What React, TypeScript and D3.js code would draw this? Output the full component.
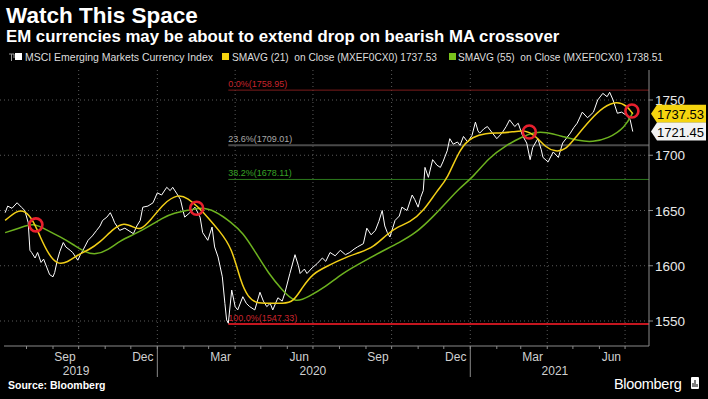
import * as d3 from "d3";

// MSCI EM currency index (date, close)
const priceData: [string, number][] = [
  ["2019-07-07", 1648], ["2019-07-10", 1654], ["2019-07-15", 1652], ["2019-07-21", 1657],
  ["2019-07-26", 1653], ["2019-07-30", 1650], ["2019-08-03", 1639], ["2019-08-05", 1614],
  ["2019-08-07", 1612], ["2019-08-11", 1607], ["2019-08-14", 1612], ["2019-08-18", 1603],
  ["2019-08-21", 1606], ["2019-08-25", 1598], ["2019-08-28", 1592], ["2019-09-01", 1590],
  ["2019-09-03", 1594], ["2019-09-06", 1605], ["2019-09-09", 1613], ["2019-09-13", 1621],
  ["2019-09-16", 1617], ["2019-09-21", 1614], ["2019-09-24", 1612], ["2019-09-30", 1605],
  ["2019-10-03", 1610], ["2019-10-06", 1614], ["2019-10-12", 1623], ["2019-10-17", 1627],
  ["2019-10-22", 1632], ["2019-10-26", 1636], ["2019-10-29", 1641], ["2019-11-03", 1644],
  ["2019-11-07", 1648], ["2019-11-10", 1643], ["2019-11-12", 1639], ["2019-11-18", 1632],
  ["2019-11-24", 1634], ["2019-11-30", 1631], ["2019-12-04", 1629], ["2019-12-08", 1636],
  ["2019-12-12", 1641], ["2019-12-15", 1653], ["2019-12-21", 1654], ["2019-12-27", 1657],
  ["2020-01-01", 1666], ["2020-01-06", 1664], ["2020-01-12", 1671], ["2020-01-16", 1668],
  ["2020-01-19", 1671], ["2020-01-24", 1665], ["2020-01-28", 1660], ["2020-01-31", 1650],
  ["2020-02-02", 1644], ["2020-02-08", 1648], ["2020-02-14", 1653], ["2020-02-20", 1644],
  ["2020-02-23", 1630], ["2020-02-29", 1623], ["2020-03-05", 1635], ["2020-03-08", 1617],
  ["2020-03-12", 1608], ["2020-03-17", 1590], ["2020-03-20", 1566], ["2020-03-22", 1551],
  ["2020-03-24", 1548], ["2020-03-28", 1578], ["2020-04-01", 1563], ["2020-04-04", 1560],
  ["2020-04-10", 1572], ["2020-04-14", 1566], ["2020-04-18", 1563], ["2020-04-24", 1560],
  ["2020-04-30", 1576], ["2020-05-04", 1568], ["2020-05-08", 1563], ["2020-05-12", 1566],
  ["2020-05-15", 1560], ["2020-05-21", 1571], ["2020-05-26", 1568], ["2020-05-29", 1575],
  ["2020-06-04", 1593], ["2020-06-10", 1610], ["2020-06-14", 1600], ["2020-06-16", 1593],
  ["2020-06-21", 1597], ["2020-06-24", 1593], ["2020-06-30", 1598], ["2020-07-06", 1602],
  ["2020-07-12", 1607], ["2020-07-16", 1604], ["2020-07-21", 1612], ["2020-07-27", 1609],
  ["2020-08-02", 1614], ["2020-08-08", 1610], ["2020-08-13", 1612], ["2020-08-18", 1615],
  ["2020-08-22", 1617], ["2020-08-29", 1620], ["2020-09-02", 1634], ["2020-09-07", 1628],
  ["2020-09-12", 1632], ["2020-09-16", 1640], ["2020-09-20", 1650], ["2020-09-23", 1636],
  ["2020-09-26", 1630], ["2020-09-29", 1626], ["2020-10-05", 1641], ["2020-10-10", 1645],
  ["2020-10-13", 1653], ["2020-10-19", 1650], ["2020-10-25", 1664], ["2020-10-28", 1660],
  ["2020-11-01", 1653], ["2020-11-04", 1662], ["2020-11-07", 1668], ["2020-11-09", 1689],
  ["2020-11-13", 1680], ["2020-11-18", 1696], ["2020-11-23", 1691], ["2020-11-27", 1689],
  ["2020-11-30", 1694], ["2020-12-05", 1704], ["2020-12-08", 1715], ["2020-12-12", 1710],
  ["2020-12-17", 1712], ["2020-12-20", 1709], ["2020-12-24", 1717], ["2020-12-29", 1712],
  ["2021-01-03", 1718], ["2021-01-07", 1730], ["2021-01-10", 1722], ["2021-01-12", 1720],
  ["2021-01-17", 1724], ["2021-01-21", 1726], ["2021-01-26", 1721], ["2021-02-01", 1715],
  ["2021-02-07", 1720], ["2021-02-12", 1726], ["2021-02-16", 1732], ["2021-02-22", 1726],
  ["2021-02-26", 1729], ["2021-03-03", 1718], ["2021-03-08", 1711], ["2021-03-12", 1696],
  ["2021-03-15", 1707], ["2021-03-21", 1715], ["2021-03-25", 1705], ["2021-03-27", 1698],
  ["2021-04-02", 1694], ["2021-04-08", 1703], ["2021-04-14", 1698], ["2021-04-19", 1711],
  ["2021-04-24", 1716], ["2021-04-28", 1720], ["2021-05-02", 1725], ["2021-05-06", 1729],
  ["2021-05-12", 1739], ["2021-05-18", 1734], ["2021-05-21", 1736], ["2021-05-25", 1739],
  ["2021-05-30", 1750], ["2021-06-05", 1756], ["2021-06-10", 1753], ["2021-06-13", 1757],
  ["2021-06-17", 1750], ["2021-06-22", 1738], ["2021-06-27", 1739], ["2021-07-03", 1736],
  ["2021-07-07", 1732], ["2021-07-10", 1721.45],
];

// 21-day simple moving average (yellow)
const sma21Data: [string, number][] = [
  ["2019-07-07", 1641], ["2019-07-21", 1650], ["2019-07-30", 1650], ["2019-08-09", 1641],
  ["2019-08-17", 1626], ["2019-08-27", 1610], ["2019-09-06", 1601], ["2019-09-18", 1603],
  ["2019-09-30", 1610], ["2019-10-12", 1614], ["2019-10-26", 1621], ["2019-11-11", 1634],
  ["2019-11-23", 1639], ["2019-12-04", 1635], ["2019-12-12", 1632], ["2019-12-24", 1641],
  ["2020-01-09", 1657], ["2020-01-25", 1665], ["2020-02-06", 1661], ["2020-02-18", 1653],
  ["2020-03-01", 1643], ["2020-03-13", 1632], ["2020-03-28", 1617], ["2020-04-08", 1584],
  ["2020-04-16", 1572], ["2020-04-25", 1566], ["2020-05-11", 1566], ["2020-05-27", 1566],
  ["2020-06-08", 1567], ["2020-06-19", 1581], ["2020-07-01", 1593], ["2020-07-16", 1599],
  ["2020-08-06", 1607], ["2020-08-25", 1612], ["2020-09-10", 1617], ["2020-09-25", 1628],
  ["2020-10-07", 1635], ["2020-10-22", 1639], ["2020-11-08", 1650], ["2020-11-23", 1668],
  ["2020-12-05", 1678], ["2020-12-20", 1707], ["2021-01-04", 1717], ["2021-01-19", 1720],
  ["2021-02-04", 1720], ["2021-02-19", 1721], ["2021-03-06", 1723], ["2021-03-18", 1718],
  ["2021-03-30", 1707], ["2021-04-11", 1703], ["2021-04-23", 1705], ["2021-05-05", 1717],
  ["2021-05-21", 1732], ["2021-06-06", 1744], ["2021-06-21", 1749], ["2021-07-03", 1745],
  ["2021-07-10", 1737.53],
];

// 55-day simple moving average (green)
const sma55Data: [string, number][] = [
  ["2019-07-07", 1630], ["2019-07-24", 1634], ["2019-08-09", 1639], ["2019-08-25", 1632],
  ["2019-09-10", 1626], ["2019-09-25", 1619], ["2019-10-09", 1612], ["2019-10-21", 1610],
  ["2019-11-04", 1614], ["2019-11-19", 1623], ["2019-12-04", 1628], ["2019-12-21", 1635],
  ["2020-01-06", 1643], ["2020-01-21", 1648], ["2020-02-06", 1650], ["2020-02-21", 1653],
  ["2020-03-08", 1650], ["2020-03-28", 1639], ["2020-04-10", 1630], ["2020-04-25", 1612],
  ["2020-05-10", 1593], ["2020-05-26", 1578], ["2020-06-10", 1566], ["2020-06-26", 1572],
  ["2020-07-16", 1581], ["2020-08-04", 1593], ["2020-08-27", 1603], ["2020-09-17", 1612],
  ["2020-10-10", 1621], ["2020-10-30", 1630], ["2020-11-18", 1644], ["2020-12-05", 1658],
  ["2020-12-19", 1670], ["2021-01-04", 1680], ["2021-01-23", 1698], ["2021-02-12", 1709],
  ["2021-03-03", 1717], ["2021-03-18", 1721], ["2021-03-30", 1721], ["2021-04-19", 1717],
  ["2021-05-08", 1713], ["2021-05-24", 1712], ["2021-06-11", 1715], ["2021-07-01", 1725],
  ["2021-07-10", 1738.51],
];

// Fibonacci retracement levels
const fibLabels = ["0.0%", "23.6%", "38.2%", "100.0%"];
const fibValues = [1758.95, 1709.01, 1678.11, 1547.33];
const fibStart = "2020-03-24";

// MA crossovers highlighted with red rings
const crossDates = ["2019-08-12", "2020-02-16", "2021-03-11", "2021-07-09"];
const crossValues = [1637, 1652, 1721, 1740];

const yTicks = [1550, 1600, 1650, 1700, 1750];
const monthLabels = ["2019-09-15", "2019-12-15", "2020-03-15", "2020-06-15", "2020-09-15", "2020-12-15", "2021-03-15", "2021-06-15"];
const yearLabels = ["2019", "2020", "2021"];
const yearMids = ["2019-09-28", "2020-07-01", "2021-04-10"];

const W = 708;
const H = 399;
const plotRight = 649;
const plotTop = 70;
const plotBottom = 346;
const font = "'Liberation Sans', Arial, sans-serif";
const fibColors = ["#7d1c1c", "#4a4a4a", "#2c7a1c", "#c4161f"];
const fibText = ["#c8242c", "#a8a8a8", "#38a326", "#c8242c"];

const parse = d3.timeParse("%Y-%m-%d");

export default function App() {
  const x = d3
    .scaleTime()
    .domain([parse("2019-07-01")!, parse("2021-07-29")!])
    .range([0, plotRight]);
  const y = d3.scaleLinear().domain([1550, 1750]).range([321, 100]);

  const line = d3
    .line<[string, number]>()
    .x(d => x(parse(d[0])!))
    .y(d => y(d[1]));
  const smooth = d3
    .line<[string, number]>()
    .x(d => x(parse(d[0])!))
    .y(d => y(d[1]))
    .curve(d3.curveBasis);

  const months = d3.timeMonth.range(parse("2019-08-01")!, parse("2021-07-29")!);
  const quarters = months.filter(m => m.getMonth() % 3 === 0);
  const years = [parse("2020-01-01")!, parse("2021-01-01")!];

  const last21 = sma21Data[sma21Data.length - 1][1];
  const lastPx = priceData[priceData.length - 1][1];

  const tag = (v: number, fill: string) => {
    const cy = y(v);
    return (
      <g key={fill}>
        <path
          d={`M${plotRight + 2},${cy} L${plotRight + 8},${cy - 9} H${W - 2} V${cy + 9} H${plotRight + 8} Z`}
          fill={fill}
        />
        <text
          x={plotRight + 8}
          y={cy + 5}
          fontSize={13.5}
          fill="#000"
          textLength={W - plotRight - 12}
          lengthAdjust="spacingAndGlyphs"
        >
          {v.toFixed(2)}
        </text>
      </g>
    );
  };

  return (
    <svg
      width={W}
      height={H}
      style={{ position: "absolute", left: 0, top: 0, background: "#000" }}
      fontFamily={font}
    >
      <rect width={W} height={H} fill="#000" />
      <text x={6} y={23} fontSize={22.5} fontWeight="bold" fill="#fff">Watch This Space</text>
      <text x={6} y={42} fontSize={16.8} fontWeight="bold" fill="#fff">
        EM currencies may be about to extend drop on bearish MA crossover
      </text>

      {/* legend */}
      <g fontSize={11.5} fill="#ddd">
        <path d="M9,54 H14 V58 M11.5,54 V61" stroke="#999" fill="none" strokeWidth={1} />
        <rect x={15} y={53} width={7} height={7} fill="#fff" />
        <text x={25} y={61} textLength={188} lengthAdjust="spacingAndGlyphs">
          MSCI Emerging Markets Currency Index
        </text>
        <rect x={222} y={53} width={7} height={7} fill="#f5d40f" />
        <text x={232} y={61} xmlSpace="preserve" textLength={205} lengthAdjust="spacingAndGlyphs">
          SMAVG (21)  on Close (MXEF0CX0) 1737.53
        </text>
        <rect x={449} y={53} width={7} height={7} fill="#79c21d" />
        <text x={458} y={61} xmlSpace="preserve" textLength={205} lengthAdjust="spacingAndGlyphs">
          SMAVG (55)  on Close (MXEF0CX0) 1738.51
        </text>
      </g>

      {/* grid */}
      <g stroke="#5a5a5a" strokeDasharray="1,3" strokeWidth={1}>
        {yTicks.map(t => (
          <line key={t} x1={0} x2={plotRight} y1={y(t)} y2={y(t)} />
        ))}
        {quarters.map(q => (
          <line key={+q} x1={x(q)} x2={x(q)} y1={plotTop} y2={plotBottom} />
        ))}
      </g>

      {/* fibonacci levels */}
      {fibValues.map((v, i) => (
        <g key={v}>
          <line
            x1={x(parse(fibStart)!)}
            x2={plotRight}
            y1={y(v)}
            y2={y(v)}
            stroke={fibColors[i]}
            strokeWidth={i === 1 || i === 3 ? 2 : 1}
          />
          <text x={x(parse(fibStart)!)} y={y(v) - 3} fontSize={9} fill={fibText[i]}>
            {`${fibLabels[i]}(${v.toFixed(2)})`}
          </text>
        </g>
      ))}

      {/* series */}
      <path d={line(priceData) ?? ""} fill="none" stroke="#fff" strokeWidth={1} />
      <path d={smooth(sma55Data) ?? ""} fill="none" stroke="#6db21f" strokeWidth={1.5} />
      <path d={smooth(sma21Data) ?? ""} fill="none" stroke="#f2cf17" strokeWidth={1.5} />

      {crossDates.map((d, i) => (
        <circle
          key={d}
          cx={x(parse(d)!)}
          cy={y(crossValues[i])}
          r={6.5}
          fill="none"
          stroke="#e8202e"
          strokeWidth={2.6}
        />
      ))}

      {/* axes */}
      <line x1={plotRight} x2={plotRight} y1={plotTop} y2={plotBottom} stroke="#8a8a8a" />
      <line x1={4} x2={plotRight} y1={plotBottom} y2={plotBottom} stroke="#8a8a8a" />
      {yTicks.map(t => (
        <g key={t}>
          <line x1={plotRight} x2={plotRight + 4} y1={y(t)} y2={y(t)} stroke="#8a8a8a" />
          <text x={plotRight + 6} y={y(t) + 5} fontSize={13.5} fill="#e8e8e8">{t}</text>
        </g>
      ))}
      {months.map(m => (
        <line key={+m} x1={x(m)} x2={x(m)} y1={plotBottom} y2={plotBottom + 3} stroke="#8a8a8a" />
      ))}
      {monthLabels.map(m => (
        <text key={m} x={x(parse(m)!)} y={361} fontSize={12} fill="#d0d0d0" textAnchor="middle">
          {d3.timeFormat("%b")(parse(m)!)}
        </text>
      ))}
      {years.map(yr => (
        <line key={+yr} x1={x(yr)} x2={x(yr)} y1={plotBottom} y2={377} stroke="#8a8a8a" />
      ))}
      {yearLabels.map((yl, i) => (
        <text key={yl} x={x(parse(yearMids[i])!)} y={375} fontSize={12} fill="#d0d0d0" textAnchor="middle">
          {yl}
        </text>
      ))}

      {tag(last21, "#f5d40f")}
      {tag(lastPx, "#f2f2f2")}

      <text x={8} y={389} fontSize={10.5} fontWeight="bold" fill="#fff">Source: Bloomberg</text>
      <text x={614} y={389} fontSize={14.5} fill="#fff" letterSpacing={-0.3}>Bloomberg</text>
      <rect x={691} y={377} width={8} height={12} rx={1} fill="#fff" />
      <path d="M693,387 V383 M695,387 V380 M697,387 V384" stroke="#000" strokeWidth={1} />
    </svg>
  );
}
